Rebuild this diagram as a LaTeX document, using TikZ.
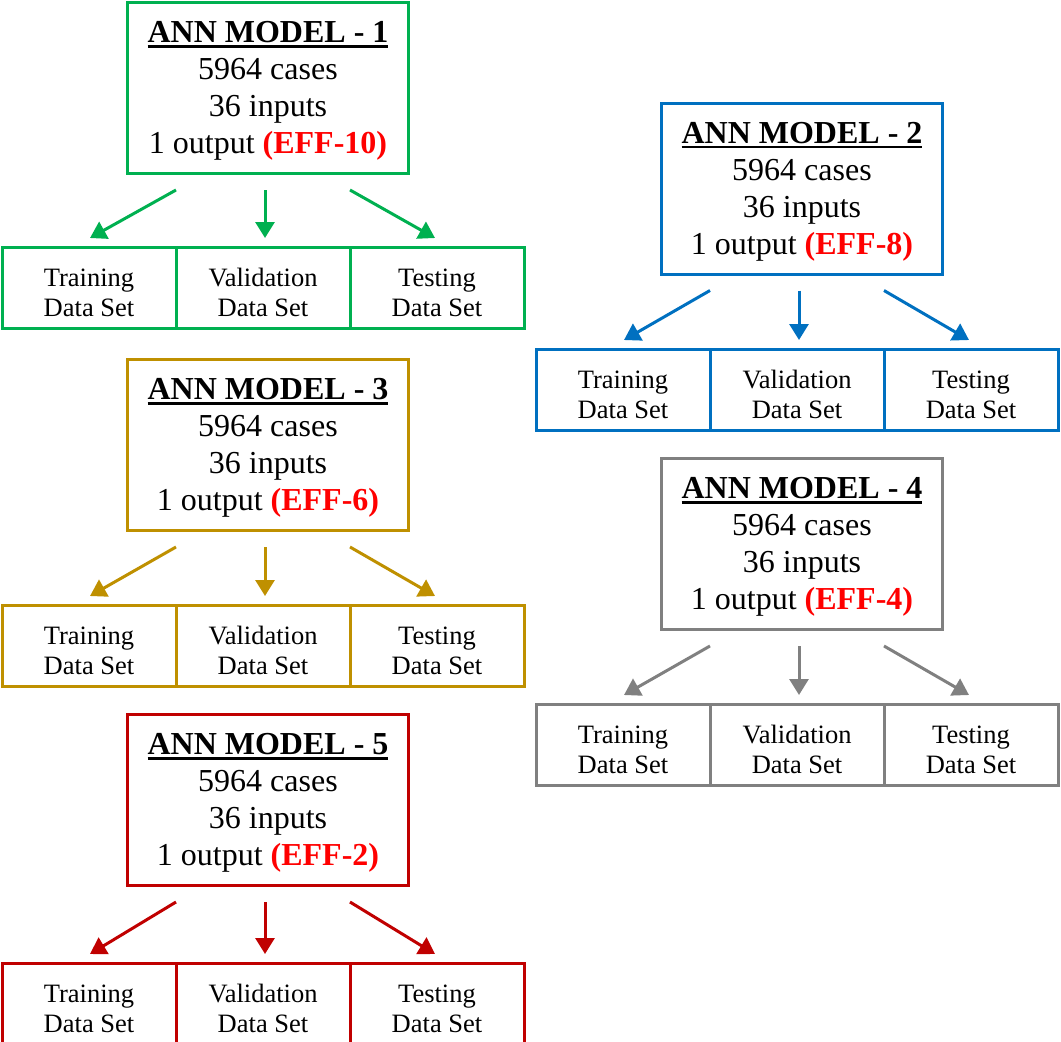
\documentclass[tikz,border=0pt]{standalone}
\usepackage{fontspec}
\setmainfont{Liberation Serif}
\usetikzlibrary{arrows.meta,calc}
\definecolor{cgreen}{HTML}{00B050}
\definecolor{cblue}{HTML}{0070C0}
\definecolor{cgold}{HTML}{BF9000}
\definecolor{cred}{HTML}{C00000}
\definecolor{cgray}{HTML}{808080}
\definecolor{effred}{HTML}{FF0000}
\newcommand\ttlline[1]{\setbox0\hbox{\bfseries #1}\rlap{\rule[-5pt]{\wd0}{2.4pt}}\box0}
\newcommand\efflabel[1]{\textcolor{effred}{\bfseries (#1)}}
% id, colour, model x, model y, model number, EFF label, data x, data y
\newcommand\anngroup[8]{%
  \node[model=#2] (m#1) at (#3,#4) {};
  \node[modeltext] (mt#1) at ($(m#1.center)+(0,3)$) {\ttlline{ANN MODEL - #5}\\5964 cases\\36 inputs\\1 output \efflabel{EFF-#6}};
  \node[dset=#2] (v#1) at (#7,#8) {};
  \node[dset=#2] (t#1) at ($(v#1.center)+(-174,0)$) {};
  \node[dset=#2] (s#1) at ($(v#1.center)+(174,0)$) {};
  \node[dtext] (vt#1) at ($(v#1.center)+(0,7)$) {\strut Validation\\\strut Data Set};
  \node[dtext] (tt#1) at ($(t#1.center)+(0,7)$) {\strut Training\\\strut Data Set};
  \node[dtext] (st#1) at ($(s#1.center)+(0,7)$) {\strut Testing\\\strut Data Set};
  \coordinate (a#1) at ($(m#1.south)+(0,15)$);
  \draw[conn=#2] ($(a#1 -| v#1.north)+(-87,0)$) -- ($(t#1.north)+(1,-8)$);
  \draw[conn=#2] ($(a#1 -| v#1.north)+(2,0)$) -- ($(v#1.north)+(2,-8)$);
  \draw[conn=#2] ($(a#1 -| v#1.north)+(87,0)$) -- ($(s#1.north)+(-2,-8)$);
}
\begin{document}
\begin{tikzpicture}[x=1pt,y=-1pt,
  model/.style={draw=#1, line width=3pt, minimum width=281pt, minimum height=171pt, inner sep=0pt},
  modeltext/.style={inner sep=0pt, align=center, font=\fontsize{32}{37}\selectfont},
  dset/.style={draw=#1, line width=3pt, minimum width=174pt, minimum height=81pt, inner sep=0pt},
  dtext/.style={inner sep=0pt, align=center, font=\fontsize{26.5}{30}\selectfont},
  conn/.style={color=#1, line width=3pt, -{Triangle[length=16pt,width=19pt]}}]
\useasboundingbox (0,0) rectangle (1061,1042);
\anngroup{1}{cgreen}{268}{88}{1}{10}{263}{288}
\anngroup{3}{cgold}{268}{445}{3}{6}{263}{646}
\anngroup{5}{cred}{268}{800}{5}{2}{263}{1004}
\anngroup{2}{cblue}{802}{188.5}{2}{8}{797}{390}
\anngroup{4}{cgray}{802}{544}{4}{4}{797}{745}
\end{tikzpicture}
\end{document}
